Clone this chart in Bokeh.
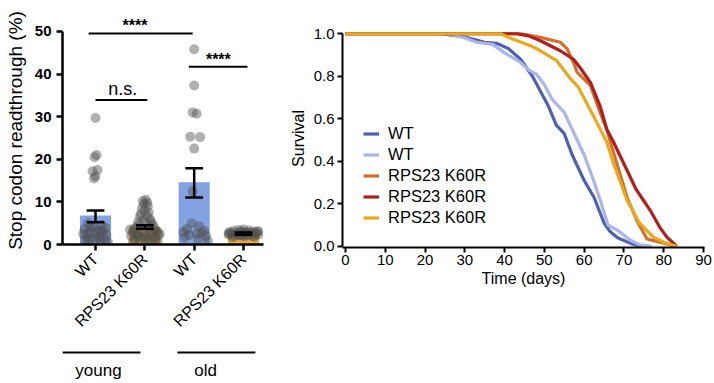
import math
from bokeh.plotting import figure
from bokeh.models import Range1d, FixedTicker, Legend, LegendItem
from bokeh.layouts import row, column
from bokeh.embed import file_html
from bokeh.resources import INLINE
from bokeh.core.properties import value

FONT = "Liberation Sans"

# ---------------- left panel data ----------------
cat_pos = [1, 2, 3, 4]
cat_labels = ["WT", "RPS23 K60R", "WT", "RPS23 K60R"]
bar_means = [6.8, 4.1, 14.6, 2.5]
err_low = [5.2, 3.7, 11.0, 2.3]
err_high = [8.0, 4.5, 17.9, 2.8]
bar_colors = ["#82a2e2", "#e8ab3e", "#82a2e2", "#e8ab3e"]

wt_young_vals = [29.7, 21.0, 20.5, 17.5, 17.2, 16.0, 15.5, 5.0, 4.6, 4.2, 3.9, 3.6, 3.3, 3.0, 2.8,
                 2.6, 2.3, 2.0, 1.8, 1.5, 1.2, 1.0, 0.8, 0.6, 4.0, 2.5, 1.4, 3.2, 0.9]
wt_young_jit = [0.0, 0.02, -0.02, 0.04, -0.06, 0.0, -0.03, -0.15, 0.12, -0.05, 0.2, -0.22, 0.05, 0.15,
                -0.12, 0.0, 0.22, -0.18, 0.08, -0.08, 0.18, -0.2, 0.1, 0.25, -0.1, -0.25, 0.02, 0.1, -0.14]
rps_young_vals = [10.5, 10.2, 9.8, 9.5, 9.0, 8.5, 8.0, 7.5, 7.2, 6.8, 6.5, 6.0, 5.7, 5.5, 5.2, 5.0,
                  4.8, 4.5, 4.2, 4.0, 3.8, 3.6, 3.4, 3.2, 3.0, 2.8, 2.6, 2.4, 2.2, 2.0, 1.8, 1.6, 1.4,
                  1.2, 1.0, 0.8, 0.6, 3.5, 2.5, 1.5, 3.0, 2.0, 1.0, 2.7, 1.8, 0.5]
rps_young_jit = [0.02, -0.04, 0.05, -0.02, 0.06, -0.06, 0.0, 0.08, -0.08, 0.04, -0.1, 0.1, -0.03, 0.12,
                 -0.14, 0.03, 0.15, -0.12, 0.18, -0.18, 0.08, -0.22, 0.22, -0.06, 0.25, -0.25, 0.12,
                 -0.15, 0.28, -0.28, 0.05, 0.2, -0.2, 0.1, -0.1, 0.26, -0.24, -0.3, 0.3, 0.0, 0.16,
                 -0.16, 0.2, -0.02, -0.1, 0.05]
wt_old_vals = [45.8, 37.3, 31.0, 30.7, 25.3, 25.2, 22.5, 12.5, 5.0, 4.3, 3.6, 3.2, 2.9, 2.7, 2.5, 2.2,
               2.0, 1.6, 1.2, 0.8]
wt_old_jit = [0.0, 0.0, -0.03, 0.05, -0.08, 0.12, 0.0, -0.03, -0.05, 0.1, -0.15, 0.2, -0.22, 0.15,
              0.05, -0.1, 0.24, -0.2, 0.08, 0.28]
rps_old_vals = [3.5, 3.4, 3.3, 3.2, 3.1, 3.0, 3.0, 2.9, 2.8, 2.8, 2.7, 2.6, 2.6, 2.5, 2.5, 2.4, 2.3,
                2.3, 2.2, 2.1, 2.0, 2.0, 1.9, 1.8, 1.7, 2.9, 2.4, 3.1, 2.2, 2.7]
rps_old_jit = [0.0, -0.1, 0.1, -0.2, 0.2, -0.05, 0.28, -0.28, 0.05, 0.15, -0.15, 0.25, -0.25, 0.0,
               0.12, -0.12, 0.3, -0.3, 0.08, -0.08, 0.18, -0.18, 0.02, 0.22, -0.22, -0.02, 0.04,
               0.3, -0.04, -0.3]

sig_x0 = [0.86, 1.0, 2.89]
sig_x1 = [2.97, 2.05, 4.08]
sig_y = [49.5, 33.9, 41.7]
star_text = ["****", "****"]
star_x = [1.8, 3.49]
star_y = [51.4, 43.5]
ns_text = ["n.s."]
ns_x = [1.55]
ns_y = [36.5]

group_names = ["young", "old"]
group_x0 = [0.331, 2.66]
group_x1 = [1.91, 4.24]
group_text_x = [1.06, 3.23]

# ---------------- right panel data ----------------
wt_a_days = [0, 24, 30, 35, 38, 41, 44, 47, 49, 51, 53, 55, 57, 60, 62.5, 65, 66.5, 68.5, 72, 75]
wt_a_surv = [1.0, 1.0, 0.985, 0.96, 0.955, 0.93, 0.88, 0.80, 0.73, 0.66, 0.57, 0.53, 0.43, 0.31,
             0.23, 0.11, 0.07, 0.04, 0.012, 0.0]
wt_b_days = [0, 26, 30, 33, 37, 40, 44, 46, 48, 50, 52, 55, 57, 60, 62, 64, 66, 68.5, 71.5, 74, 77]
wt_b_surv = [1.0, 1.0, 0.98, 0.96, 0.95, 0.91, 0.865, 0.83, 0.81, 0.76, 0.69, 0.63, 0.55, 0.43,
             0.33, 0.22, 0.10, 0.075, 0.03, 0.008, 0.0]
rps_a_days = [0, 44, 47, 49, 54, 55.7, 57.3, 58.2, 61.6, 64, 65.7, 66.6, 70.8, 73.3, 75.8, 78, 80.8, 83]
rps_a_surv = [1.0, 1.0, 0.99, 0.983, 0.96, 0.93, 0.865, 0.82, 0.756, 0.63, 0.55, 0.49, 0.23, 0.12,
              0.035, 0.025, 0.012, 0.0]
rps_b_days = [0, 43, 46, 49, 54, 57.3, 59, 61.6, 64, 65.7, 67.4, 70.8, 73, 76.6, 79, 80.8, 83.3]
rps_b_surv = [1.0, 1.0, 0.99, 0.967, 0.92, 0.88, 0.84, 0.77, 0.66, 0.55, 0.49, 0.357, 0.27, 0.17,
              0.09, 0.044, 0.0]
rps_c_days = [0, 39, 42, 46.5, 49, 53, 56.5, 58.5, 62.3, 65.7, 67.4, 70.8, 74, 77.4, 80, 83.3]
rps_c_surv = [1.0, 1.0, 0.975, 0.944, 0.92, 0.875, 0.79, 0.75, 0.615, 0.49, 0.39, 0.216, 0.108,
              0.044, 0.02, 0.0]
series_names = ["WT", "WT", "RPS23 K60R", "RPS23 K60R", "RPS23 K60R"]
series_colors = ["#4f5fb4", "#a9b6e8", "#d4702a", "#b01e1e", "#e8a91c"]

y_ticks_left = [0, 10, 20, 30, 40, 50]
x_ticks_right = [0, 10, 20, 30, 40, 50, 60, 70, 80, 90]
y_ticks_right = [0, 0.2, 0.4, 0.6, 0.8, 1.0]
y_tick_labels_right = ["0.0", "0.2", "0.4", "0.6", "0.8", "1.0"]


def style_axes(p, lw):
    for ax in p.axis:
        ax.axis_line_width = lw
        ax.major_tick_line_width = lw
        ax.major_tick_in = 0
        ax.major_tick_out = 6
        ax.minor_tick_line_color = None
        ax.major_label_text_color = "black"
        ax.axis_label_text_color = "black"
        ax.axis_label_text_font = FONT
        ax.major_label_text_font = FONT
        ax.axis_label_text_font_style = "normal"
    p.grid.visible = False
    p.outline_line_color = None


# ---------------- left figure ----------------
xr = Range1d(0.331, 4.405)
p1 = figure(width=285, height=338, x_range=xr, y_range=Range1d(0, 53.5),
            output_backend="svg", toolbar_location=None,
            min_border_left=62, min_border_right=22, min_border_top=16, min_border_bottom=93)
p1.vbar(x=cat_pos, top=bar_means, width=0.63, fill_color=bar_colors, line_color=None)

groups = [(wt_young_vals, wt_young_jit, 1), (rps_young_vals, rps_young_jit, 2),
          (wt_old_vals, wt_old_jit, 3), (rps_old_vals, rps_old_jit, 4)]
for vals, jit, c in groups:
    xs = [c + j for j in jit]
    p1.scatter(xs, vals, size=10, fill_color="#505050", fill_alpha=0.45, line_color=None)

p1.segment(x0=cat_pos, y0=err_low, x1=cat_pos, y1=err_high, line_color="black", line_width=2.5)
p1.segment(x0=[c - 0.18 for c in cat_pos], y0=err_low, x1=[c + 0.18 for c in cat_pos], y1=err_low,
           line_color="black", line_width=2.5)
p1.segment(x0=[c - 0.18 for c in cat_pos], y0=err_high, x1=[c + 0.18 for c in cat_pos], y1=err_high,
           line_color="black", line_width=2.5)

p1.segment(x0=sig_x0, y0=sig_y, x1=sig_x1, y1=sig_y, line_color="black", line_width=2)
p1.text(x=ns_x, y=ns_y, text=ns_text, text_align="center", text_baseline="middle",
        text_font=value(FONT), text_font_size="18px", text_color="black")
p1.text(x=star_x, y=star_y, text=star_text, text_align="center", text_baseline="middle",
        text_font=value(FONT), text_font_size="16px", text_font_style="bold", text_color="black")

p1.yaxis.ticker = FixedTicker(ticks=y_ticks_left)
p1.yaxis.bounds = (0, 50)
p1.yaxis.axis_label = "Stop codon readthrough (%)"
p1.xaxis.ticker = FixedTicker(ticks=cat_pos)
p1.xaxis.major_label_overrides = {c: l for c, l in zip(cat_pos, cat_labels)}
p1.xaxis.major_label_orientation = math.pi / 4
style_axes(p1, 2.5)
p1.yaxis.major_label_text_font_size = "15px"
p1.yaxis.major_label_text_font_style = "bold"
p1.yaxis.axis_label_text_font_size = "19px"
p1.yaxis.axis_label_standoff = 6
p1.xaxis.major_label_text_font_size = "16px"
p1.xaxis.major_label_standoff = 6

# ---------------- group labels below ----------------
p3 = figure(width=285, height=45, x_range=xr, y_range=Range1d(0, 1),
            output_backend="svg", toolbar_location=None,
            min_border_left=62, min_border_right=22, min_border_top=0, min_border_bottom=0)
p3.segment(x0=group_x0, y0=[0.69, 0.69], x1=group_x1, y1=[0.69, 0.69], line_color="black", line_width=2)
p3.text(x=group_text_x, y=[0.3, 0.3], text=group_names, text_align="center", text_baseline="middle",
        text_font=value(FONT), text_font_size="17px", text_color="black")
p3.axis.visible = False
p3.grid.visible = False
p3.outline_line_color = None

# ---------------- right figure ----------------
p2 = figure(width=429, height=298, x_range=Range1d(-0.75, 90.25), y_range=Range1d(-0.005, 1.02),
            output_backend="svg", toolbar_location=None,
            min_border_left=57, min_border_right=10, min_border_top=29, min_border_bottom=51)
all_days = [wt_a_days, wt_b_days, rps_a_days, rps_b_days, rps_c_days]
all_surv = [wt_a_surv, wt_b_surv, rps_a_surv, rps_b_surv, rps_c_surv]
items = []
for d, s, name, col in zip(all_days, all_surv, series_names, series_colors):
    r = p2.line(d, s, line_color=col, line_width=3.2)
    items.append(LegendItem(label=name, renderers=[r]))

leg = Legend(items=items, location=(21, 19), padding=0, margin=0, spacing=0,
             glyph_width=16, glyph_height=21, label_height=21, label_standoff=9,
             label_text_font=FONT, label_text_font_size="16.5px", label_text_color="black",
             border_line_color=None, background_fill_alpha=0)
p2.add_layout(leg)

p2.xaxis.ticker = FixedTicker(ticks=x_ticks_right)
p2.yaxis.ticker = FixedTicker(ticks=y_ticks_right)
p2.yaxis.major_label_overrides = {t: l for t, l in zip(y_ticks_right, y_tick_labels_right)}
p2.yaxis.bounds = (0, 1)
p2.xaxis.axis_label = "Time (days)"
p2.yaxis.axis_label = "Survival"
style_axes(p2, 2)
p2.xaxis.major_tick_out = 5
p2.yaxis.major_tick_out = 5
p2.axis.major_label_text_font_size = "15px"
p2.axis.axis_label_text_font_size = "16px"
p2.xaxis.major_label_standoff = 2
p2.xaxis.axis_label_standoff = 2
p2.yaxis.major_label_standoff = 3
p2.yaxis.axis_label_standoff = 4

layout = row(column(p1, p3), p2)
open("out.html", "w").write(file_html(layout, INLINE))
